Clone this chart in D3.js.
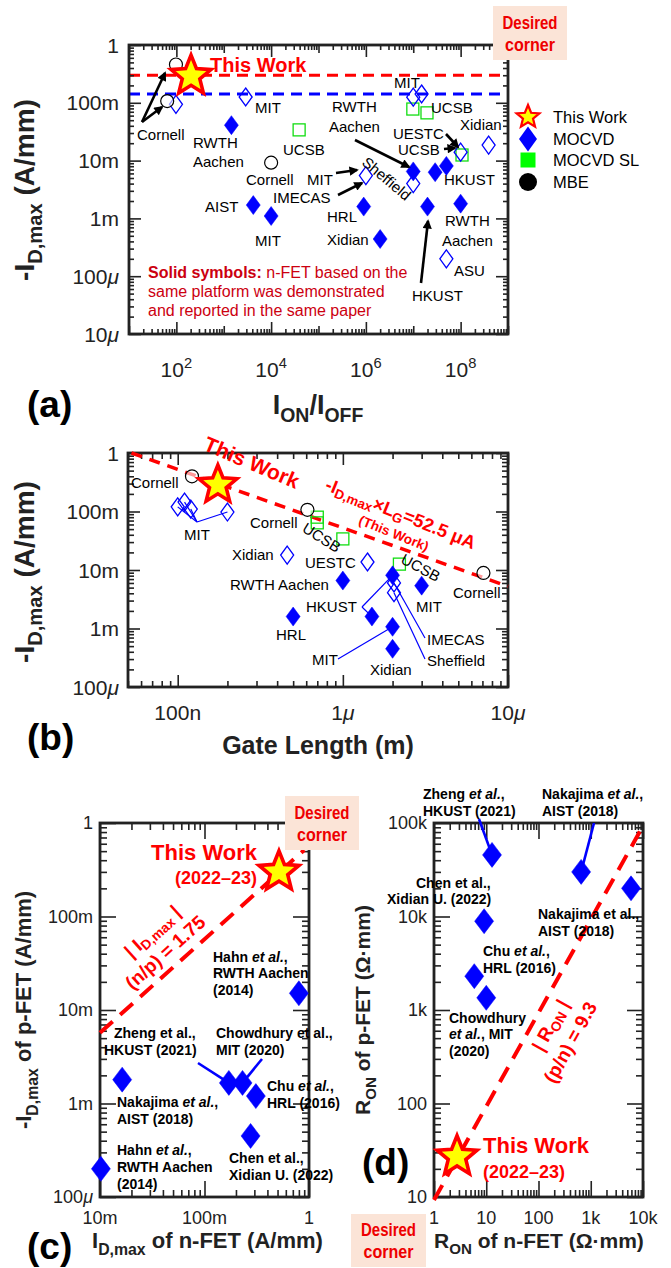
<!DOCTYPE html>
<html>
<head>
<meta charset="utf-8">
<script src="https://cdn.jsdelivr.net/npm/d3@7"></script>
<style>
  body { margin: 0; background: #fff; }
  svg { display: block; font-family: "Liberation Sans", Arial, Helvetica, sans-serif; }
</style>
</head>
<body>
<svg id="chart" width="671" height="1268"></svg>
<script>
// ---------- data: panel (a) -ID,max vs ION/IOFF ----------
const aThisWork = [[204, 0.29]];
const aThisLevel = 0.30;      // red dashed: this work
const aBestLevel = 0.142;     // blue dashed: best previous
const aMBE = [[98, 0.46], [64, 0.107], [1e4, 0.0092]];
const aMOCVD = [[1.45e3, 0.041], [4.2e3, 0.0017], [1e4, 0.0011], [9e5, 0.0016], [2e6, 0.00044],
                [1e7, 0.0065], [2e7, 0.0016], [2.9e7, 0.0063], [5e7, 0.0081], [1e8, 0.0018]];
const aMOCVDOpen = [[98, 0.094], [2.9e3, 0.126], [1e7, 0.125], [1.5e7, 0.142], [1e6, 0.0055],
                    [1e7, 0.004], [1e8, 0.014], [3.9e8, 0.0186], [5e7, 0.0002]];
const aMOCVDSL = [[3.9e4, 0.034], [9.8e6, 0.078], [1.95e7, 0.067], [1.07e8, 0.0125]];
const aXTicks = [1e2, 1e4, 1e6, 1e8];
const aXLabels = ["10^{2}", "10^{4}", "10^{6}", "10^{8}"];
const aYTicks = [1, 0.1, 0.01, 1e-3, 1e-4, 1e-5];
const aYLabels = ["1", "100m", "10m", "1m", "100*μ*", "10*μ*"];
const legendNames = ["This Work", "MOCVD", "MOCVD SL", "MBE"];

// ---------- data: panel (b) -ID,max vs gate length ----------
const bThisWork = [[1.75e-7, 0.284]];
const bProduct = 5.25e-8;     // -ID,max x LG = 52.5 uA (A/mm * m)
const bLineL = [5.25e-8, 1e-5];
const bMBE = [[1.22e-7, 0.40], [6.1e-7, 0.107], [7.1e-6, 0.0089]];
const bMOCVD = [[1e-6, 0.0066], [5e-7, 0.0016], [1.5e-6, 0.0016], [2e-6, 0.0081],
                [2e-6, 0.00107], [2e-6, 0.00045], [3e-6, 0.0054]];
const bMOCVDOpen = [[1.0e-7, 0.12], [1.1e-7, 0.145], [1.2e-7, 0.11], [2.0e-7, 0.098],
                    [4.6e-7, 0.018], [1.41e-6, 0.0137], [2.04e-6, 0.006], [2.04e-6, 0.0041]];
const bMOCVDSL = [[7e-7, 0.08], [7e-7, 0.064], [1e-6, 0.034], [2.2e-6, 0.0126]];
const bXTicks = [1e-7, 1e-6, 1e-5];
const bXLabels = ["100n", "1*μ*", "10*μ*"];
const bYTicks = [1, 0.1, 0.01, 1e-3, 1e-4];
const bYLabels = ["1", "100m", "10m", "1m", "100*μ*"];

// ---------- data: panel (c) p-FET vs n-FET ID,max ----------
const cThisWork = [[0.516, 0.30]];
const cRatio = 1.75;
const cLineN = [0.01, 0.9];
const cOthers = [[0.80, 0.0151], [0.0163, 0.0018], [0.171, 0.00166], [0.231, 0.00166],
                 [0.31, 0.0012], [0.276, 0.00045], [0.0102, 0.0002]];
const cXTicks = [0.01, 0.1, 1];
const cXLabels = ["10m", "100m", "1"];

// ---------- data: panel (d) p-FET vs n-FET RON ----------
const dThisWork = [[2.76, 27]];
const dRatio = 9.3;
const dLineN = [1, 1e4];
const dOthers = [[12.9, 45600], [655, 30000], [5900, 20000], [9.1, 8900], [5.9, 2300], [10, 1350]];
const dXTicks = [1, 10, 100, 1e3, 1e4];
const dXLabels = ["1", "10", "100", "1k", "10k"];
const dYTicks = [10, 100, 1e3, 1e4, 1e5];
const dYLabels = ["10", "100", "1k", "10k", "100k"];

// ---------- colours ----------
const BLUE = "#0000ff", RED = "#ff0000", GREEN = "#11dd11", DARKRED = "#cc0010", AXIS = "#222";

const svg = d3.select("#chart");
svg.append("defs").append("marker")
    .attr("id", "arrow").attr("viewBox", "0 0 10 10").attr("refX", 8).attr("refY", 5)
    .attr("markerWidth", 4).attr("markerHeight", 3.6).attr("orient", "auto")
  .append("path").attr("d", "M0,0L10,5L0,10Z").attr("fill", "#000");

// ---------- helpers ----------
function rich(text, str, size) {
    // _{..} subscript, ^{..} superscript, *..* italic
    const re = /(_\{[^}]*\}|\^\{[^}]*\}|\*[^*]+\*)/;
    let shift = 0;
    str.split(re).filter(s => s !== "").forEach(tok => {
        let t = tok, fs = size, off = 0, it = false;
        if (tok.startsWith("_{")) { t = tok.slice(2, -1); fs = size * 0.72; off = size * 0.3; }
        else if (tok.startsWith("^{")) { t = tok.slice(2, -1); fs = size * 0.7; off = -size * 0.42; }
        else if (tok.length > 2 && tok[0] === "*" && tok[tok.length - 1] === "*") { t = tok.slice(1, -1); it = true; }
        const ts = text.append("tspan").attr("font-size", fs).text(t);
        if (off - shift !== 0) ts.attr("dy", off - shift);
        if (it) ts.attr("font-style", "italic");
        shift = off;
    });
}

function label(g, str, x, y, o = {}) {
    const size = o.size || 15;
    const t = g.append("text")
        .attr("font-size", size)
        .attr("fill", o.color || "#000")
        .attr("font-weight", o.bold ? "bold" : null)
        .attr("text-anchor", o.anchor || "start");
    if (o.rotate != null) t.attr("transform", `translate(${x},${y}) rotate(${o.rotate})`);
    else t.attr("x", x).attr("y", y);
    if (o.mid) t.attr("dominant-baseline", "central");
    if (o.fit) t.attr("textLength", o.fit).attr("lengthAdjust", "spacingAndGlyphs");
    rich(t, str, size);
    return t;
}

function logTicks(domain) {
    const out = [];
    const e0 = Math.floor(Math.log10(domain[0])), e1 = Math.ceil(Math.log10(domain[1]));
    for (let e = e0; e <= e1; e++) {
        for (let m = 1; m < 10; m++) {
            const v = +(m * Math.pow(10, e)).toPrecision(6);
            if (v >= domain[0] * 0.999 && v <= domain[1] * 1.001) out.push({ v, m });
        }
    }
    return out;
}

function frame(g, x, y, o) {
    const [xl, xr] = x.range(), [yb, yt] = y.range();
    const groups = (scale, labelled) => {
        const all = logTicks(scale.domain());
        const isLab = v => labelled.some(l => Math.abs(Math.log10(l) - Math.log10(v)) < 1e-6);
        return [
            { vals: all.filter(t => isLab(t.v)).map(t => t.v), len: o.major },
            { vals: all.filter(t => t.m === 1 && !isLab(t.v)).map(t => t.v), len: o.mid },
            { vals: all.filter(t => t.m !== 1).map(t => t.v), len: o.minor }
        ];
    };
    const sides = [
        [d3.axisBottom, x, `translate(0,${yb})`, groups(x, o.xTicks)],
        [d3.axisTop, x, `translate(0,${yt})`, groups(x, o.xTicks)],
        [d3.axisLeft, y, `translate(${xl},0)`, groups(y, o.yTicks)],
        [d3.axisRight, y, `translate(${xr},0)`, groups(y, o.yTicks)]
    ];
    sides.forEach(([axisFn, sc, tr, grs]) => {
        grs.forEach(gr => {
            const ag = g.append("g").attr("transform", tr)
                .call(axisFn(sc).tickValues(gr.vals).tickSize(-gr.len).tickFormat(""));
            ag.select(".domain").remove();
            ag.selectAll("line").attr("stroke", AXIS).attr("stroke-width", 1.6);
        });
    });
    g.append("rect").attr("x", xl).attr("y", yt).attr("width", xr - xl).attr("height", yb - yt)
        .attr("fill", "none").attr("stroke", AXIS).attr("stroke-width", 2.8);
    o.xTicks.forEach((v, i) => label(g, o.xLabels[i], x(v), o.xLabelY,
        { size: o.font, anchor: "middle", color: AXIS }));
    o.yTicks.forEach((v, i) => label(g, o.yLabels[i], o.yLabelX, y(v) + o.font * 0.36,
        { size: o.font, anchor: "end", color: AXIS }));
}

function starPath(R) {
    const pts = [];
    for (let i = 0; i < 10; i++) {
        const a = -Math.PI / 2 + i * Math.PI / 5, r = i % 2 ? R * 0.44 : R;
        pts.push([r * Math.cos(a), r * Math.sin(a)]);
    }
    return "M" + pts.map(p => p.join(",")).join("L") + "Z";
}
const diamondPath = (w, h) => `M0,${-h}L${w},0L0,${h}L${-w},0Z`;

function stars(g, data, x, y, R) {
    g.selectAll(null).data(data).enter().append("path")
        .attr("d", starPath(R))
        .attr("transform", d => `translate(${x(d[0])},${y(d[1])})`)
        .attr("fill", "#ffff00").attr("stroke", RED).attr("stroke-width", 3.6)
        .attr("stroke-linejoin", "miter");
}
function diamonds(g, data, x, y, w, h, filled) {
    g.selectAll(null).data(data).enter().append("path")
        .attr("d", diamondPath(w, h))
        .attr("transform", d => `translate(${x(d[0])},${y(d[1])})`)
        .attr("fill", filled ? BLUE : "#fff").attr("fill-opacity", filled ? 1 : 0)
        .attr("stroke", BLUE).attr("stroke-width", filled ? 0.5 : 1.3);
}
function squares(g, data, x, y, s) {
    g.selectAll(null).data(data).enter().append("rect")
        .attr("x", d => x(d[0]) - s / 2).attr("y", d => y(d[1]) - s / 2)
        .attr("width", s).attr("height", s)
        .attr("fill", "none").attr("stroke", GREEN).attr("stroke-width", 1.3);
}
function circles(g, data, x, y, r) {
    g.selectAll(null).data(data).enter().append("circle")
        .attr("cx", d => x(d[0])).attr("cy", d => y(d[1])).attr("r", r)
        .attr("fill", "#fff").attr("fill-opacity", 0.6).attr("stroke", "#000").attr("stroke-width", 1.2);
}
function dashed(g, pts, x, y, color, w, dash) {
    g.append("path").datum(pts)
        .attr("d", d3.line().x(d => x(d[0])).y(d => y(d[1])))
        .attr("fill", "none").attr("stroke", color).attr("stroke-width", w)
        .attr("stroke-dasharray", dash);
}
function desired(g, x0, y0, w, h) {
    g.append("rect").attr("x", x0).attr("y", y0).attr("width", w).attr("height", h).attr("fill", "#fbe4d7");
    label(g, "Desired", x0 + w / 2, y0 + h * 0.42, { size: 18, bold: true, anchor: "middle", color: "#ee0000", fit: 55 });
    label(g, "corner", x0 + w / 2, y0 + h * 0.83, { size: 18, bold: true, anchor: "middle", color: "#ee0000", fit: 50 });
}

// ================= panel (a) =================
const xA = d3.scaleLog().domain([1e1, 1e9]).range([129, 508]);
const yA = d3.scaleLog().domain([1e-5, 1]).range([334, 45]);
const gA = svg.append("g");

dashed(gA, [[xA.domain()[0], aThisLevel], [xA.domain()[1], aThisLevel]], xA, yA, RED, 3, "11,7");
dashed(gA, [[xA.domain()[0], aBestLevel], [xA.domain()[1], aBestLevel]], xA, yA, BLUE, 3, "11,7");
frame(gA, xA, yA, { xTicks: aXTicks, xLabels: aXLabels, yTicks: aYTicks, yLabels: aYLabels,
    major: 12, mid: 8, minor: 5, font: 21, xLabelY: 377, yLabelX: 119 });

squares(gA, aMOCVDSL, xA, yA, 12);
diamonds(gA, aMOCVDOpen, xA, yA, 6.5, 9, false);
diamonds(gA, aMOCVD, xA, yA, 7, 9.5, true);
circles(gA, aMBE, xA, yA, 6.5);
stars(gA, aThisWork, xA, yA, 21);

label(gA, "This Work", 210, 72, { size: 20, bold: true, color: RED });

[["MIT", 255, 113], ["Cornell", 137, 140], ["RWTH", 193, 148], ["Aachen", 193, 167],
 ["UCSB", 283, 155], ["Cornell", 246, 185], ["MIT", 307, 185], ["IMECAS", 273, 203],
 ["AIST", 205, 212], ["MIT", 255, 246], ["HRL", 327, 222], ["Xidian", 327, 245],
 ["RWTH", 332, 112], ["Aachen", 329, 132], ["MIT", 394, 88], ["UCSB", 431, 113],
 ["Xidian", 460, 130], ["UESTC", 393, 139], ["UCSB", 398, 155], ["HKUST", 444, 185],
 ["RWTH", 445, 226], ["Aachen", 442, 246], ["ASU", 454, 276], ["HKUST", 412, 301]]
    .forEach(([t, x, y]) => label(gA, t, x, y, { size: 15 }));
label(gA, "Sheffield", 387, 178, { size: 15, rotate: 40, anchor: "middle", mid: true });

[[142, 122, 165, 73], [142, 122, 162, 107], [355, 140, 409, 167], [446, 134, 458, 147],
 [444, 149, 455, 148], [336, 173, 357, 170], [338, 195, 362, 183], [421, 283, 428, 221]]
    .forEach(([x1, y1, x2, y2]) => gA.append("line")
        .attr("x1", x1).attr("y1", y1).attr("x2", x2).attr("y2", y2)
        .attr("stroke", "#000").attr("stroke-width", 2.6).attr("marker-end", "url(#arrow)"));

const note = label(gA, "*Solid symbols:* n-FET based on the", 148, 278, { size: 16, color: DARKRED });
note.select("tspan").attr("font-style", null).attr("font-weight", "bold");
label(gA, "same platform was demonstrated", 148, 297, { size: 16, color: DARKRED });
label(gA, "and reported in the same paper", 148, 316, { size: 16, color: DARKRED });

// legend
const legY = [117, 139, 160, 182];
gA.append("path").attr("d", starPath(12)).attr("transform", `translate(528,${legY[0]})`)
    .attr("fill", "#ffff00").attr("stroke", RED).attr("stroke-width", 2.2);
gA.append("path").attr("d", diamondPath(9, 12.5)).attr("transform", `translate(528,${legY[1]})`).attr("fill", BLUE);
gA.append("rect").attr("x", 520.5).attr("y", legY[2] - 7.5).attr("width", 15).attr("height", 15).attr("fill", "#00ff00");
gA.append("circle").attr("cx", 528).attr("cy", legY[3]).attr("r", 9).attr("fill", "#000");
legendNames.forEach((n, i) => label(gA, n, 553, legY[i] + 6, { size: 16.5 }));

desired(gA, 493, 6, 74, 54);
label(gA, "-I_{D,max} (A/mm)", 34, 190, { size: 28, bold: true, rotate: -90, anchor: "middle", color: AXIS });
label(gA, "I_{ON}/I_{OFF}", 318, 414, { size: 27, bold: true, anchor: "middle", color: AXIS });
label(gA, "(a)", 27, 417, { size: 37, bold: true });

// ================= panel (b) =================
const xB = d3.scaleLog().domain([5e-8, 1e-5]).range([128, 508]);
const yB = d3.scaleLog().domain([1e-4, 1]).range([687, 453]);
const gB = svg.append("g");

frame(gB, xB, yB, { xTicks: bXTicks, xLabels: bXLabels, yTicks: bYTicks, yLabels: bYLabels,
    major: 12, mid: 12, minor: 6, font: 21, xLabelY: 720, yLabelX: 119 });

// connectors
[[[197, 522], bMOCVDOpen[0]], [[197, 522], bMOCVDOpen[1]], [[197, 522], bMOCVDOpen[2]], [[197, 522], bMOCVDOpen[3]],
 [[362, 607], bMOCVD[2]], [[362, 607], bMOCVD[3]], [[338, 659], bMOCVD[4]],
 [[425, 638], bMOCVDOpen[6]], [[425, 659], bMOCVDOpen[7]]]
    .forEach(([p, d]) => gB.append("line")
        .attr("x1", p[0]).attr("y1", p[1]).attr("x2", xB(d[0])).attr("y2", yB(d[1]))
        .attr("stroke", BLUE).attr("stroke-width", 1.2));

dashed(gB, bLineL.map(L => [L, bProduct / L]), xB, yB, RED, 3.5, "11,8");
squares(gB, bMOCVDSL, xB, yB, 12);
diamonds(gB, bMOCVDOpen, xB, yB, 6.5, 9, false);
diamonds(gB, bMOCVD, xB, yB, 7, 9.5, true);
circles(gB, bMBE, xB, yB, 6.5);
stars(gB, bThisWork, xB, yB, 20);

[["Cornell", 131, 488], ["MIT", 184, 540], ["Cornell", 250, 528], ["Xidian", 232, 560],
 ["UESTC", 305, 568], ["RWTH Aachen", 230, 590], ["Cornell", 453, 598], ["HKUST", 306, 612],
 ["MIT", 416, 612], ["HRL", 276, 640], ["IMECAS", 427, 645], ["MIT", 312, 665],
 ["Xidian", 370, 675], ["Sheffield", 427, 666]]
    .forEach(([t, x, y]) => label(gB, t, x, y, { size: 15 }));
label(gB, "UCSB", 322, 537, { size: 15, rotate: 32, anchor: "middle", mid: true });
label(gB, "UCSB", 421, 567, { size: 15, rotate: 28, anchor: "middle", mid: true });

label(gB, "This Work", 252, 462, { size: 21, bold: true, color: RED, rotate: 23, anchor: "middle", mid: true });
label(gB, "-I_{D,max}×L_{G}=52.5 μA", 401, 513, { size: 18.5, bold: true, color: RED, rotate: 22, anchor: "middle", mid: true });
label(gB, "(This Work)", 394, 533, { size: 13.5, bold: true, color: RED, rotate: 22, anchor: "middle", mid: true });

label(gB, "-I_{D,max} (A/mm)", 34, 572, { size: 28, bold: true, rotate: -90, anchor: "middle", color: AXIS });
label(gB, "Gate Length (m)", 318, 754, { size: 25, bold: true, anchor: "middle", color: AXIS });
label(gB, "(b)", 27, 750, { size: 37, bold: true });

// ================= panel (c) =================
const xC = d3.scaleLog().domain([1e-2, 1]).range([100, 309]);
const yC = d3.scaleLog().domain([1e-4, 1]).range([1197, 823]);
const gC = svg.append("g");

frame(gC, xC, yC, { xTicks: cXTicks, xLabels: cXLabels, yTicks: bYTicks, yLabels: bYLabels,
    major: 16, mid: 16, minor: 7, font: 18, xLabelY: 1224, yLabelX: 93 });
dashed(gC, cLineN.map(n => [n, n / cRatio]), xC, yC, RED, 4, "17,10");
[[[198, 1063], cOthers[2]], [[262, 1059], cOthers[3]]]
    .forEach(([p, d]) => gC.append("line")
        .attr("x1", p[0]).attr("y1", p[1]).attr("x2", xC(d[0])).attr("y2", yC(d[1]))
        .attr("stroke", BLUE).attr("stroke-width", 2.6));
diamonds(gC, cOthers, xC, yC, 9.5, 12.5, true);
stars(gC, cThisWork, xC, yC, 21);

label(gC, "This Work", 257, 860, { size: 22, bold: true, color: RED, anchor: "end" });
label(gC, "(2022–23)", 257, 884, { size: 18, bold: true, color: RED, anchor: "end" });
label(gC, "| I_{D,max} |", 152, 931, { size: 19, bold: true, color: RED, rotate: -42, anchor: "middle", mid: true });
label(gC, "(n/p) = 1.75", 165, 952, { size: 19, bold: true, color: RED, rotate: -42, anchor: "middle", mid: true });

[["Hahn *et al.*,", 213, 962], ["RWTH Aachen", 213, 978], ["(2014)", 213, 995],
 ["Zheng et al.,", 114, 1038], ["HKUST (2021)", 104, 1055],
 ["Chowdhury et al.,", 216, 1038], ["MIT (2020)", 216, 1055],
 ["Chu *et al.*,", 267, 1091], ["HRL (2016)", 267, 1108],
 ["Nakajima *et al.*,", 117, 1107], ["AIST (2018)", 117, 1124],
 ["Chen et al.,", 229, 1163], ["Xidian U. (2022)", 229, 1180],
 ["Hahn *et al.*,", 117, 1155], ["RWTH Aachen", 117, 1172], ["(2014)", 117, 1189]]
    .forEach(([t, x, y]) => label(gC, t, x, y, { size: 14, bold: true }));

desired(gC, 285, 796, 74, 54);
label(gC, "-I_{D,max} of p-FET (A/mm)", 31, 1010, { size: 22, bold: true, rotate: -90, anchor: "middle", color: AXIS });
label(gC, "I_{D,max} of n-FET (A/mm)", 92, 1248, { size: 22, bold: true, color: AXIS });
label(gC, "(c)", 27, 1259, { size: 37, bold: true });

// ================= panel (d) =================
const xD = d3.scaleLog().domain([1, 1e4]).range([434, 643]);
const yD = d3.scaleLog().domain([10, 1e5]).range([1197, 823]);
const gD = svg.append("g");

frame(gD, xD, yD, { xTicks: dXTicks, xLabels: dXLabels, yTicks: dYTicks, yLabels: dYLabels,
    major: 16, mid: 16, minor: 7, font: 18, xLabelY: 1224, yLabelX: 427 });
dashed(gD, dLineN.map(n => [n, n * dRatio]), xD, yD, RED, 4, "17,10");
[[[479, 819], dOthers[0]], [[594, 823], dOthers[1]]]
    .forEach(([p, d]) => gD.append("line")
        .attr("x1", p[0]).attr("y1", p[1]).attr("x2", xD(d[0])).attr("y2", yD(d[1]))
        .attr("stroke", BLUE).attr("stroke-width", 2.6));
diamonds(gD, dOthers, xD, yD, 9.5, 12.5, true);
stars(gD, dThisWork, xD, yD, 21);

label(gD, "This Work", 483, 1153, { size: 22, bold: true, color: RED });
label(gD, "(2022–23)", 483, 1178, { size: 18, bold: true, color: RED });
label(gD, "| R_{ON} |", 550, 1025, { size: 19, bold: true, color: RED, rotate: -61, anchor: "middle", mid: true });
label(gD, "(p/n) = 9.3", 570, 1042, { size: 19, bold: true, color: RED, rotate: -61, anchor: "middle", mid: true });

[["Zheng *et al.*,", 423, 799], ["HKUST (2021)", 423, 816],
 ["Nakajima *et al.*,", 542, 799], ["AIST (2018)", 542, 816],
 ["Chen et al.,", 416, 888], ["Xidian U. (2022)", 387, 904],
 ["Nakajima et al.,", 538, 919], ["AIST (2018)", 538, 936],
 ["Chu *et al.*,", 483, 956], ["HRL (2016)", 483, 973],
 ["Chowdhury", 449, 1023], ["*et al.*, MIT", 449, 1039], ["(2020)", 449, 1056]]
    .forEach(([t, x, y]) => label(gD, t, x, y, { size: 14, bold: true }));

desired(gD, 351, 1214, 75, 53);
label(gD, "R_{ON} of p-FET (Ω·mm)", 370, 1010, { size: 21, bold: true, rotate: -90, anchor: "middle", color: AXIS });
label(gD, "R_{ON} of n-FET (Ω·mm)", 434, 1248, { size: 21, bold: true, color: AXIS });
label(gD, "(d)", 362, 1175, { size: 37, bold: true });
</script>
</body>
</html>
